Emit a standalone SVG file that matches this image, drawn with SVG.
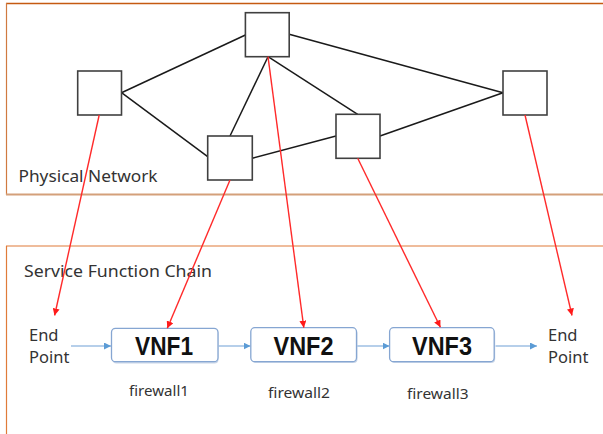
<svg xmlns="http://www.w3.org/2000/svg" width="603" height="434" viewBox="0 0 603 434">
<defs>
<style>
.node{fill:#fff;stroke:#404040;stroke-width:1.6}
.link{stroke:#1a1a1a;stroke-width:1.5;fill:none}
.map{stroke:#ff2a2a;stroke-width:1.4;fill:none;marker-end:url(#ar)}
.flow{stroke:#6fa0d6;stroke-width:1.2;fill:none;marker-end:url(#ab)}
.vnf{fill:#fff;stroke:#86a6d2;stroke-width:1.3}
.lbl{font-family:"Noto Sans","Liberation Sans",sans-serif;fill:#333}
.vt{font-family:"Liberation Sans",Arial,sans-serif;font-weight:bold;font-size:25px;fill:#111;text-anchor:middle}
</style>
<marker id="ar" viewBox="0 0 10 10" refX="10" refY="5" markerWidth="7" markerHeight="7" markerUnits="userSpaceOnUse" orient="auto"><path d="M0,0L10,5L0,10z" fill="#ff1a1a"/></marker>
<marker id="ab" viewBox="0 0 10 10" refX="10" refY="5" markerWidth="7" markerHeight="7" markerUnits="userSpaceOnUse" orient="auto"><path d="M0,0L10,5L0,10z" fill="#5b9bd5"/></marker>
</defs>
<rect width="603" height="434" fill="#fff"/>
<g id="physical-network">
<line x1="6" y1="3.5" x2="603" y2="3.5" stroke="#c55a11" stroke-width="1.5"/>
<line x1="6.5" y1="3" x2="6.5" y2="195" stroke="#d07a40" stroke-width="1.2"/>
<line x1="6" y1="194.5" x2="603" y2="194.5" stroke="#d4a07a" stroke-width="2"/>
<text class="lbl" x="18.5" y="182" font-size="16" textLength="139" lengthAdjust="spacingAndGlyphs">Physical Network</text>
</g>
<g id="service-function-chain">
<line x1="6" y1="246" x2="603" y2="246" stroke="#e07b39" stroke-width="1.2"/>
<line x1="6.5" y1="246" x2="6.5" y2="434" stroke="#e07b39" stroke-width="1.2"/>
<text class="lbl" x="24" y="277" font-size="16" textLength="188" lengthAdjust="spacingAndGlyphs">Service Function Chain</text>
</g>
<g id="connectors">
<line class="link" x1="121.5" y1="92.7" x2="245.4" y2="35"/>
<line class="link" x1="121.5" y1="92.7" x2="207.7" y2="156.7"/>
<line class="link" x1="268" y1="56.7" x2="230" y2="136"/>
<line class="link" x1="268" y1="56.7" x2="357.7" y2="114.3"/>
<line class="link" x1="289.2" y1="34.3" x2="503" y2="92.7"/>
<line class="link" x1="252.3" y1="158.3" x2="336" y2="136"/>
<line class="link" x1="380" y1="136" x2="503" y2="92.7"/>
<line class="flow" x1="71" y1="346" x2="111" y2="346"/>
<line class="flow" x1="218.5" y1="346" x2="250.5" y2="346"/>
<line class="flow" x1="357" y1="346" x2="389.5" y2="346"/>
<line class="flow" x1="495.5" y1="346" x2="537" y2="346"/>
</g>
<g id="n-left"><rect class="node" x="77.7" y="71" width="43.8" height="44"/></g>
<g id="n-top"><rect class="node" x="245.4" y="12.7" width="43.8" height="44"/></g>
<g id="n-right"><rect class="node" x="503" y="71" width="44" height="44"/></g>
<g id="n-center"><rect class="node" x="207.7" y="136" width="44.6" height="44"/></g>
<g id="n-midright"><rect class="node" x="336" y="114.3" width="44" height="44"/></g>
<g id="ep-left"><text class="lbl" font-size="16.5"><tspan x="29" y="340.5">End</tspan><tspan x="29" y="362.5">Point</tspan></text></g>
<g id="ep-right"><text class="lbl" font-size="16.5"><tspan x="548" y="340.5">End</tspan><tspan x="548" y="362.5">Point</tspan></text></g>
<g id="vnf1"><rect x="112.5" y="330" width="106" height="33.5" rx="4" fill="#c9d6e8"/><rect class="vnf" x="111.5" y="328.3" width="106.5" height="33.4" rx="4"/><text class="vt" x="164" y="354.5" textLength="58" lengthAdjust="spacingAndGlyphs">VNF1</text><text class="lbl" x="129" y="396" font-size="15" textLength="60" lengthAdjust="spacingAndGlyphs">firewall1</text></g>
<g id="vnf2"><rect x="251.8" y="329.5" width="105.7" height="33.5" rx="4" fill="#c9d6e8"/><rect class="vnf" x="250.8" y="327.7" width="105.7" height="34" rx="4"/><text class="vt" x="303.5" y="354.5" textLength="60" lengthAdjust="spacingAndGlyphs">VNF2</text><text class="lbl" x="268" y="397.5" font-size="15" textLength="62" lengthAdjust="spacingAndGlyphs">firewall2</text></g>
<g id="vnf3"><rect x="390.6" y="329.5" width="104.6" height="33.5" rx="4" fill="#c9d6e8"/><rect class="vnf" x="389.6" y="327.7" width="104.6" height="34" rx="4"/><text class="vt" x="442" y="354.5" textLength="60" lengthAdjust="spacingAndGlyphs">VNF3</text><text class="lbl" x="407" y="399" font-size="15" textLength="61.5" lengthAdjust="spacingAndGlyphs">firewall3</text></g>
<g id="mappings">
<line class="map" x1="99.2" y1="115" x2="54.6" y2="315.5"/>
<line class="map" x1="230" y1="180" x2="167.3" y2="328.3"/>
<line class="map" x1="268" y1="56.7" x2="303.8" y2="327.7"/>
<line class="map" x1="357.7" y1="158.3" x2="440.4" y2="327.3"/>
<line class="map" x1="525" y1="115" x2="572" y2="315.5"/>
</g>
</svg>
